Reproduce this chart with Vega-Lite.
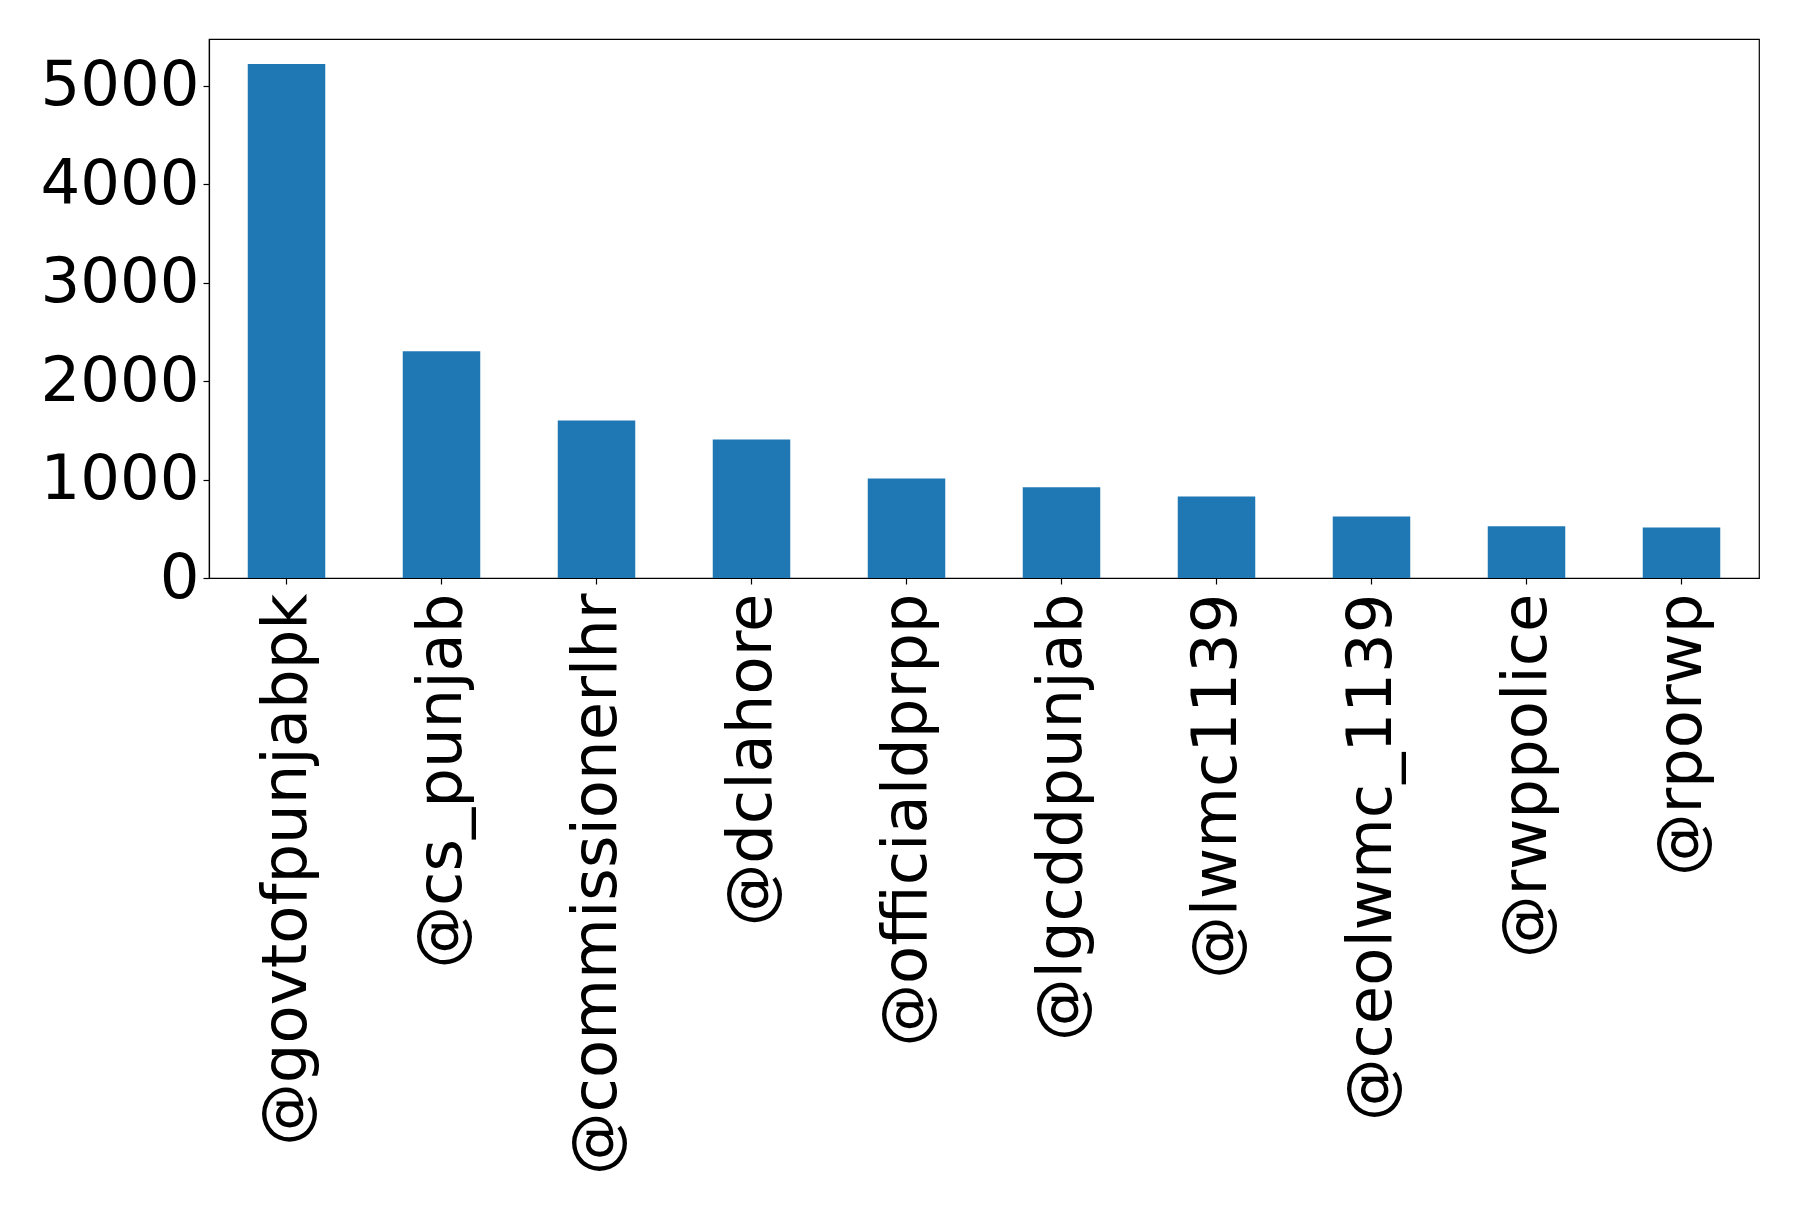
{
  "$schema": "https://vega.github.io/schema/vega-lite/v6.json",
  "autosize": {"type": "none"},
  "padding": {"left": 209, "top": 39, "right": 39, "bottom": 631},
  "width": 1550,
  "height": 539,
  "background": "white",
  "config": {
    "font": "DejaVu Sans",
    "view": {"stroke": "black", "strokeWidth": 1.2},
    "axis": {
      "grid": false,
      "domainColor": "black",
      "domainWidth": 1.2,
      "tickColor": "black",
      "tickSize": 6,
      "tickWidth": 1.2,
      "labelFont": "DejaVu Sans",
      "labelFontSize": 62.5,
      "labelColor": "black",
      "title": null
    }
  },
  "data": {
    "values": [
      {"handle": "@govtofpunjabpk", "count": 5220},
      {"handle": "@cs_punjab", "count": 2302},
      {"handle": "@commissionerlhr", "count": 1600},
      {"handle": "@dclahore", "count": 1407},
      {"handle": "@officialdprpp", "count": 1010},
      {"handle": "@lgcddpunjab", "count": 921},
      {"handle": "@lwmc1139", "count": 829},
      {"handle": "@ceolwmc_1139", "count": 624},
      {"handle": "@rwppolice", "count": 525},
      {"handle": "@rporwp", "count": 514}
    ]
  },
  "mark": {"type": "bar", "color": "#1f77b4"},
  "encoding": {
    "x": {
      "field": "handle",
      "type": "nominal",
      "sort": null,
      "scale": {"paddingInner": 0.5, "paddingOuter": 0.25},
      "axis": {"labelAngle": -90, "labelPadding": 9, "labelLimit": 1000}
    },
    "y": {
      "field": "count",
      "type": "quantitative",
      "scale": {"domain": [0, 5475], "nice": false},
      "axis": {"values": [0, 1000, 2000, 3000, 4000, 5000], "labelPadding": 4, "format": "d"}
    }
  }
}
